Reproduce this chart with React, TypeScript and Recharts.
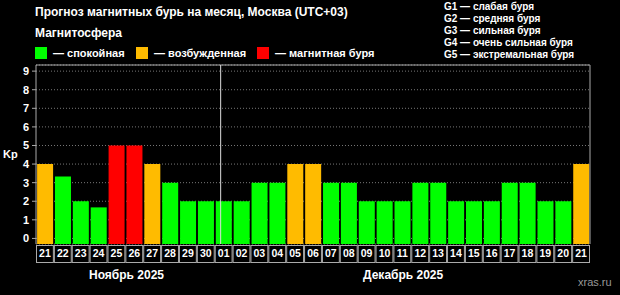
import { Bar, BarChart, CartesianGrid, Cell, ReferenceLine, XAxis, YAxis } from "recharts"

const days = [
    "21", "22", "23", "24", "25", "26", "27", "28", "29", "30",
    "01", "02", "03", "04", "05", "06", "07", "08", "09", "10", "11",
    "12", "13", "14", "15", "16", "17", "18", "19", "20", "21",
]
const kp = [
    4, 3.33, 2, 1.67, 5, 5, 4, 3, 2, 2,
    2, 2, 3, 3, 4, 4, 3, 3, 2, 2, 2,
    3, 3, 2, 2, 2, 3, 3, 2, 2, 4,
]
const kpTicks = [0, 1, 2, 3, 4, 5, 6, 7, 8, 9]
const gLabels = ["G1", "G2", "G3", "G4", "G5"]
const months = ["Ноябрь 2025", "Декабрь 2025"]
const stormScale = [
    "G1 — слабая буря",
    "G2 — средняя буря",
    "G3 — сильная буря",
    "G4 — очень сильная буря",
    "G5 — экстремальная буря",
]
const states = [
    { label: "— спокойная", color: "#00ff00" },
    { label: "— возбужденная", color: "#ffbb00" },
    { label: "— магнитная буря", color: "#ff0000" },
]

const data = days.map((day, i) => ({ day, kp: kp[i] }))
// first day of December splits the two months
const monthSplit = days.indexOf("01")

const Y_MIN = -0.3
const Y_MAX = 9.33
const W = 620
const H = 295
const LEFT = 36
const RIGHT = 30
const PLOT_W = W - LEFT - RIGHT
const FONT = "'Liberation Sans', Arial, sans-serif"

const colorFor = (v: number) => (v >= 5 ? states[2].color : v >= 4 ? states[1].color : states[0].color)

const DayTick = (props: any) => {
    const { x, y, payload } = props
    const w = PLOT_W / days.length
    return (
        <g>
            <rect x={x - w / 2 + 0.5} y={y + 1.5} width={w - 1} height={17} fill="#000" stroke="#aaa" />
            <text x={x} y={y + 13} textAnchor="middle" fill="#fff" fontSize={10.5} fontWeight="bold" fontFamily={FONT}>
                {payload.value}
            </text>
        </g>
    )
}

const txt = (extra: React.CSSProperties): React.CSSProperties => ({
    position: "absolute",
    color: "#fff",
    fontFamily: FONT,
    fontWeight: "bold",
    whiteSpace: "nowrap",
    lineHeight: 1,
    ...extra,
})

const legendX = [35, 136, 257]

export default function App() {
    return (
        <div style={{ position: "relative", width: W, height: H, background: "#000" }}>
            <style>{`body{margin:0;background:#000}`}</style>
            <BarChart
                width={W}
                height={H}
                data={data}
                margin={{ top: 65, right: 0, bottom: 0, left: 0 }}
                barCategoryGap={1.1}
            >
                <CartesianGrid yAxisId="left" vertical={false} stroke="#777" strokeDasharray="1 2" />
                <XAxis
                    dataKey="day"
                    height={51}
                    interval={0}
                    tickLine={false}
                    axisLine={false}
                    tickSize={0}
                    tickMargin={0}
                    tick={<DayTick />}
                />
                <XAxis xAxisId="idx" type="number" domain={[0, days.length]} hide />
                <YAxis
                    yAxisId="left"
                    width={LEFT}
                    domain={[Y_MIN, Y_MAX]}
                    ticks={kpTicks}
                    interval={0}
                    stroke="#aaa"
                    tickSize={4}
                    tickMargin={3}
                    tick={{ fill: "#fff", fontSize: 11, fontWeight: "bold", fontFamily: FONT }}
                />
                <YAxis
                    yAxisId="right"
                    orientation="right"
                    width={RIGHT}
                    domain={[Y_MIN, Y_MAX]}
                    ticks={kpTicks}
                    interval={0}
                    stroke="#aaa"
                    tickSize={4}
                    tickMargin={4}
                    tickFormatter={(v: number) => gLabels[v - 5] ?? ""}
                    tick={{ fill: "#fff", fontSize: 11, fontWeight: "bold", fontFamily: FONT }}
                />
                <Bar
                    yAxisId="left"
                    dataKey={(d: any) => [Y_MIN, d.kp]}
                    isAnimationActive={false}
                >
                    {data.map((d, i) => (
                        <Cell key={i} fill={colorFor(d.kp)} />
                    ))}
                </Bar>
                <ReferenceLine yAxisId="left" y={Y_MAX} stroke="#aaa" />
                <ReferenceLine yAxisId="left" xAxisId="idx" x={monthSplit} stroke="#ddd" />
            </BarChart>

            <div style={txt({ left: 35, top: 6, fontSize: 12 })}>Прогноз магнитных бурь на месяц, Москва (UTC+03)</div>
            <div style={txt({ left: 35, top: 27, fontSize: 12 })}>Магнитосфера</div>
            {states.map((s, i) => (
                <div key={i} style={txt({ left: legendX[i], top: 47, fontSize: 11, display: "flex", alignItems: "center" })}>
                    <span style={{ display: "inline-block", width: 12, height: 12, background: s.color, marginRight: 6 }} />
                    {s.label}
                </div>
            ))}
            {stormScale.map((s, i) => (
                <div key={i} style={txt({ left: 444, top: 2.4 + i * 11.9, fontSize: 10 })}>{s}</div>
            ))}
            <div style={txt({ left: 3, top: 149, fontSize: 11 })}>Kp</div>
            <div style={txt({ left: 89, top: 269, fontSize: 12 })}>{months[0]}</div>
            <div style={txt({ left: 363, top: 269, fontSize: 12 })}>{months[1]}</div>
            <div style={txt({ left: 578, top: 277, fontSize: 11, color: "#999", fontWeight: "normal" })}>xras.ru</div>
        </div>
    )
}
